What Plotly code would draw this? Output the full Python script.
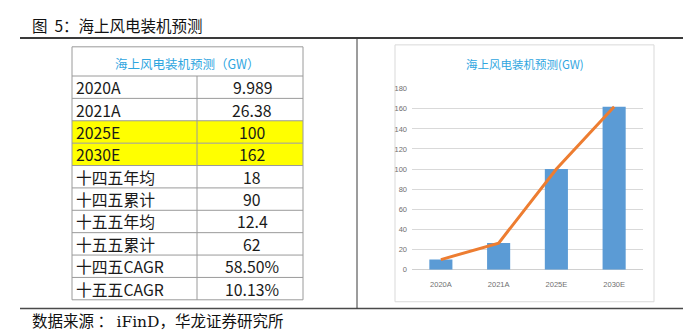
import plotly.graph_objects as go

W, H = 683, 334

# Table content
table_title = "海上风电装机预测（GW）"
row_labels = ["2020A", "2021A", "2025E", "2030E", "十四五年均", "十四五累计",
              "十五五年均", "十五五累计", "十四五CAGR", "十五五CAGR"]
row_values = ["9.989", "26.38", "100", "162", "18", "90", "12.4", "62", "58.50%", "10.13%"]
highlighted = ["2025E", "2030E"]

# Chart content
chart_title = "海上风电装机预测(GW)"
years = ["2020A", "2021A", "2025E", "2030E"]
capacity = [9.989, 26.38, 100, 162]
y_ticks = [0, 20, 40, 60, 80, 100, 120, 140, 160, 180]

fig_title = "图&nbsp;&nbsp;5：海上风电装机预测"
source_text = '数据来源 ： <span style="font-family:DejaVu Serif">iFinD</span>，华龙证券研究所'

CJK = "Noto Sans CJK SC"
BLUE_TXT = "#2FA6DF"
BAR = "#5B9BD5"
LINE = "#ED7D31"


def px(x):
    return x / W


def py(y):
    return 1 - y / H


shapes = []
annotations = []

# page rules
shapes.append(dict(type="line", xref="paper", yref="paper", x0=px(20), x1=px(683),
                   y0=py(35), y1=py(35), line=dict(color="#3a3a3a", width=2)))
shapes.append(dict(type="line", xref="paper", yref="paper", x0=px(20), x1=px(683),
                   y0=py(313), y1=py(313), line=dict(color="#4a4a4a", width=1.5)))
shapes.append(dict(type="line", xref="paper", yref="paper", x0=px(357), x1=px(357),
                   y0=py(35), y1=py(313), line=dict(color="#3a3a3a", width=1)))

annotations.append(dict(text=fig_title, x=px(30), y=py(22), xref="paper", yref="paper",
                        xanchor="left", yanchor="middle", showarrow=False,
                        font=dict(family=CJK, size=15.5, color="#111111")))
annotations.append(dict(text=source_text, x=px(30), y=py(325), xref="paper", yref="paper",
                        xanchor="left", yanchor="middle", showarrow=False,
                        font=dict(family=CJK, size=15.5, color="#111111")))

# ---- table ----
tx0, tx1, tcol = 72, 303, 197
head_top, head_bot = 44, 74
row_h = 23
grid_col = "#9a9a9a"
n = len(row_labels)
t_bottom = head_bot + n * row_h

for i, (lab, val) in enumerate(zip(row_labels, row_values)):
    y0 = head_bot + i * row_h
    y1 = y0 + row_h
    if lab in highlighted:
        shapes.append(dict(type="rect", xref="paper", yref="paper", x0=px(tx0), x1=px(tx1),
                           y0=py(y1), y1=py(y0), fillcolor="#FFFF00", line=dict(width=0),
                           layer="below"))
    ym = (y0 + y1) / 2
    annotations.append(dict(text=lab, x=px(tx0 + 3), y=py(ym + 0.5), xref="paper", yref="paper",
                            xanchor="left", yanchor="middle", showarrow=False,
                            borderpad=0,
                            font=dict(family=CJK, size=15.8, color="#1a1a1a")))
    annotations.append(dict(text=val, x=px((tcol + tx1) / 2 + 2), y=py(ym + 0.5), xref="paper",
                            yref="paper", xanchor="center", yanchor="middle", showarrow=False,
                            borderpad=0,
                            font=dict(family=CJK, size=15.8, color="#1a1a1a")))

# horizontal grid lines of the table
for yy in [head_top, head_bot] + [head_bot + (i + 1) * row_h for i in range(n)]:
    shapes.append(dict(type="line", xref="paper", yref="paper", x0=px(tx0), x1=px(tx1),
                       y0=py(yy), y1=py(yy), line=dict(color=grid_col, width=1)))
# vertical lines
for xx in [tx0, tx1]:
    shapes.append(dict(type="line", xref="paper", yref="paper", x0=px(xx), x1=px(xx),
                       y0=py(head_top), y1=py(t_bottom), line=dict(color=grid_col, width=1)))
shapes.append(dict(type="line", xref="paper", yref="paper", x0=px(tcol), x1=px(tcol),
                   y0=py(head_bot), y1=py(t_bottom), line=dict(color=grid_col, width=1)))

annotations.append(dict(text=table_title, x=px((tx0 + tx1) / 2), y=py(61), xref="paper",
                        yref="paper", xanchor="center", yanchor="middle", showarrow=False,
                        font=dict(family=CJK, size=12.5, color=BLUE_TXT)))

# ---- chart ----
shapes.append(dict(type="rect", xref="paper", yref="paper", x0=px(395), x1=px(654),
                   y0=py(306), y1=py(42), line=dict(color="#D9D9D9", width=1),
                   fillcolor="rgba(0,0,0,0)", layer="below"))
annotations.append(dict(text=chart_title, x=px(525), y=py(62), xref="paper", yref="paper",
                        xanchor="center", yanchor="middle", showarrow=False,
                        font=dict(family=CJK, size=11.5, color=BLUE_TXT)))

fig = go.Figure()
fig.add_trace(go.Bar(x=years, y=capacity, marker=dict(color=BAR, line=dict(width=0)),
                     showlegend=False, hoverinfo="x+y"))
fig.add_trace(go.Scatter(x=years, y=capacity, mode="lines",
                         line=dict(color=LINE, width=3), showlegend=False))

fig.update_layout(
    width=W, height=H,
    margin=dict(l=0, r=0, t=0, b=0),
    paper_bgcolor="white", plot_bgcolor="white",
    bargap=0.6,
    shapes=shapes, annotations=annotations,
    xaxis=dict(domain=[px(412), px(643)], range=[-0.5, 3.5], showgrid=False,
               showline=False, zeroline=False, ticks="",
               tickfont=dict(family="Liberation Sans", size=7.5, color="#6f6f6f"),
               ticklabelstandoff=9),
    yaxis=dict(domain=[py(273), py(87)], range=[0, 180], tickvals=y_ticks,
               showgrid=True, gridcolor="#D9D9D9", gridwidth=1,
               zeroline=True, zerolinecolor="#D0D0D0", zerolinewidth=1,
               showline=False, ticks="",
               tickfont=dict(family="Liberation Sans", size=7.5, color="#6f6f6f"),
               ticklabelstandoff=4),
)

fig.write_html("out.html")
